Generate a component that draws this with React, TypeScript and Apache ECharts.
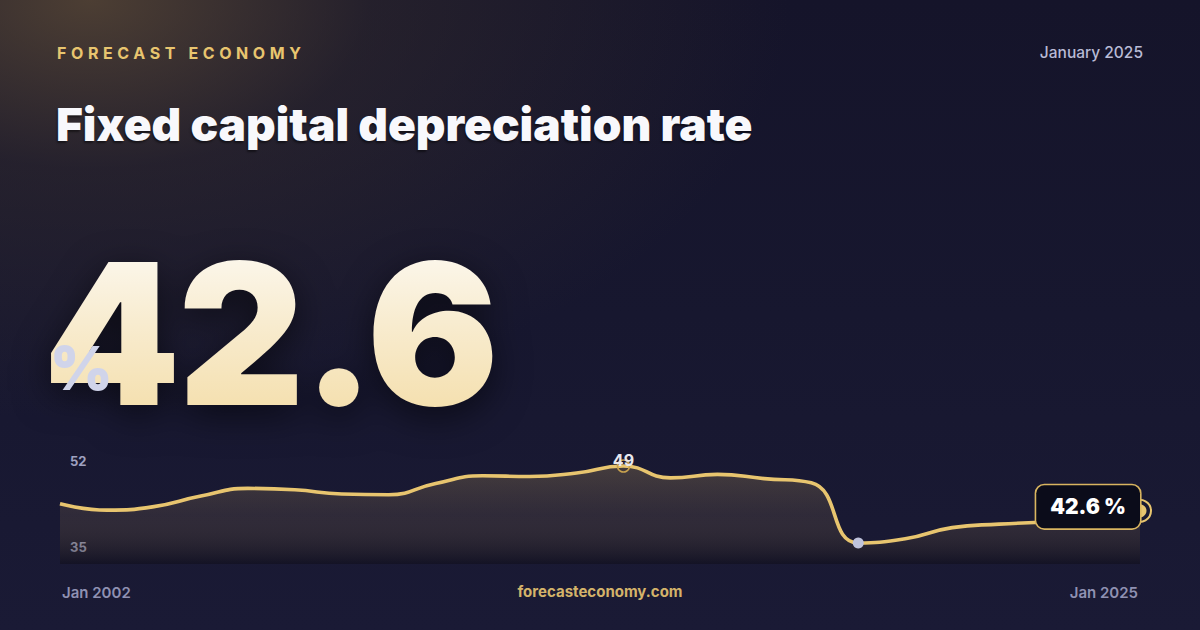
import React, { useEffect, useRef } from 'react';
import * as echarts from 'echarts';

const years = ['2002', '2003', '2004', '2005', '2006', '2007', '2008', '2009', '2010', '2011', '2012', '2013', '2014', '2015', '2016', '2017', '2018', '2019', '2020', '2021', '2022', '2023', '2024', '2025'];
const values = [43.6, 42.7, 43.2, 44.7, 45.8, 45.6, 45.0, 44.9, 46.5, 47.6, 47.5, 48.0, 49.0, 47.3, 47.8, 47.2, 46.6, 38.0, 38.6, 40.2, 40.7, 41.0, 41.5, 42.6];
const yTicks = [35, 52];
const headline = '42.6';
const unit = '%';
const brand = 'FORECAST ECONOMY';
const dateLabel = 'January 2025';
const title = 'Fixed capital depreciation rate';
const site = 'forecasteconomy.com';

const FONT = 'Inter, "Noto Sans", sans-serif';

export default function App() {
  const ref = useRef<HTMLDivElement>(null);

  useEffect(() => {
    document.body.style.margin = '0';
    const chart = echarts.init(ref.current!, null, { renderer: 'svg' });
    const last = values.length - 1;
    chart.setOption({
      animation: false,
      grid: { left: 60, right: 60, top: 445, bottom: 66 },
      xAxis: {
        type: 'category',
        data: years,
        boundaryGap: false,
        axisLine: { show: false },
        axisTick: { show: false },
        splitLine: { show: false },
        axisLabel: {
          interval: (i: number) => i === 0 || i === last,
          formatter: (v: string) => `Jan ${v}`,
          color: '#8f91b2',
          fontSize: 15,
          fontWeight: 600,
          fontFamily: FONT,
          margin: 21,
          padding: [0, 2, 0, 2],
          alignMinLabel: 'left',
          alignMaxLabel: 'right',
        },
      },
      yAxis: {
        type: 'value',
        min: yTicks[0],
        max: yTicks[1],
        splitLine: { show: false },
        axisLine: { show: false },
        axisTick: { show: false },
        axisLabel: {
          inside: true,
          margin: 10,
          formatter: (v: number) =>
            v === yTicks[1] ? `{hi|${v}}` : v === yTicks[0] ? `{lo|${v}}` : '',
          rich: {
            hi: { padding: [32, 0, 0, 0], fontSize: 13, fontWeight: 700, color: '#9fa1c0', fontFamily: FONT },
            lo: { padding: [0, 0, 34, 0], fontSize: 13, fontWeight: 700, color: '#9fa1c0', fontFamily: FONT },
          },
        },
      },
      series: [
        {
          type: 'line',
          data: values,
          smooth: 0.5,
          symbol: 'none',
          lineStyle: { color: '#e8c56f', width: 3.6 },
          areaStyle: {
            origin: 'start',
            color: new echarts.graphic.LinearGradient(0, 0, 0, 1, [
              { offset: 0, color: 'rgba(220,182,100,0.33)' },
              { offset: 0.5, color: 'rgba(170,138,88,0.22)' },
              { offset: 1, color: 'rgba(10,8,14,0.55)' },
            ]),
          },
          markPoint: {
            data: [
              {
                type: 'max',
                symbol: 'circle',
                symbolSize: 1,
                itemStyle: { color: 'rgba(0,0,0,0)' },
                label: {
                  show: true,
                  formatter: (p: any) => String(p.value),
                  position: 'inside',
                  offset: [0, -6],
                  color: '#e8e8ee',
                  fontSize: 16,
                  fontWeight: 700,
                  fontFamily: FONT,
                },
              },
              {
                type: 'max',
                symbol: 'circle',
                symbolSize: 12,
                itemStyle: { color: 'rgba(0,0,0,0)', borderColor: '#c9a24f', borderWidth: 1.6 },
                label: { show: false },
              },
              {
                type: 'min',
                symbol: 'circle',
                symbolSize: 11,
                itemStyle: { color: '#bfc3dc', borderWidth: 0 },
                label: { show: false },
              },
              {
                coord: [years[last], values[last]],
                value: values[last],
                symbol: 'circle',
                symbolSize: 1,
                itemStyle: { color: 'rgba(0,0,0,0)' },
                label: {
                  show: true,
                  formatter: (p: any) => `${p.value} ${unit}`,
                  position: 'inside',
                  align: 'right',
                  verticalAlign: 'middle',
                  offset: [0, -4],
                  color: '#ffffff',
                  fontSize: 21,
                  fontWeight: 900,
                  fontFamily: FONT,
                  backgroundColor: '#0b0c1a',
                  borderColor: '#d9b560',
                  borderWidth: 1.6,
                  borderRadius: 8,
                  padding: [11, 14, 11, 14],
                },
              },
              {
                coord: [years[last], values[last]],
                symbol: 'circle',
                symbolSize: 22,
                itemStyle: { color: 'rgba(0,0,0,0)', borderColor: '#e8c56f', borderWidth: 2 },
                label: { show: false },
              },
              {
                coord: [years[last], values[last]],
                symbol: 'circle',
                symbolSize: 13,
                itemStyle: { color: '#e8c56f', borderWidth: 0 },
                label: { show: false },
              },
            ],
          },
        },
      ],
    });
    return () => chart.dispose();
  }, []);

  return (
    <div
      style={{
        position: 'fixed',
        left: 0,
        top: 0,
        width: 1200,
        height: 630,
        overflow: 'hidden',
        fontFamily: FONT,
        background:
          'radial-gradient(ellipse 700px 420px at 90px 0px, rgba(92,74,54,0.78) 0%, rgba(60,50,46,0.4) 40%, rgba(0,0,0,0) 100%), linear-gradient(180deg, #15142a 0%, #17172f 50%, #1a1a35 100%)',
      }}
    >
      <div ref={ref} style={{ position: 'absolute', left: 0, top: 0, width: 1200, height: 630 }} />
      <div
        style={{
          position: 'absolute', left: 57, top: 45, fontSize: 16, lineHeight: '16px', fontWeight: 700,
          letterSpacing: '4.6px', color: '#e8c56f', whiteSpace: 'nowrap',
        }}
      >
        {brand}
      </div>
      <div
        style={{
          position: 'absolute', right: 57, top: 45, fontSize: 15.5, lineHeight: '15px', fontWeight: 500,
          color: '#b9bbd6', whiteSpace: 'nowrap',
        }}
      >
        {dateLabel}
      </div>
      <div
        style={{
          position: 'absolute', left: 56, top: 101, fontSize: 46, lineHeight: '46px', fontWeight: 900,
          color: '#f8f8fc', whiteSpace: 'nowrap', letterSpacing: '0px',
          textShadow: '-1px 2px 2px rgba(0,0,0,0.45)',
        }}
      >
        {title}
      </div>
      <div
        style={{
          position: 'absolute', left: 43, top: 236, fontSize: 196, lineHeight: '196px', fontWeight: 900,
          whiteSpace: 'nowrap', letterSpacing: '-2.5px',
          filter: 'drop-shadow(0px 10px 18px rgba(0,0,0,0.55))',
        }}
      >
        <span
          style={{
            background: 'linear-gradient(180deg, #fefdfb 0%, #f8ecd0 45%, #f3da9f 100%)',
            WebkitBackgroundClip: 'text',
            backgroundClip: 'text',
            color: 'transparent',
          }}
        >
          {headline}
        </span>
      </div>
      <div
        style={{
          position: 'absolute', left: 50, top: 338, fontSize: 60, lineHeight: '60px', fontWeight: 900,
          color: '#d0d4ea', whiteSpace: 'nowrap',
        }}
      >
        {unit}
      </div>
      <div
        style={{
          position: 'absolute', left: 0, width: 1200, textAlign: 'center', top: 584, fontSize: 15,
          lineHeight: '15px', fontWeight: 700, color: '#d4b36a', whiteSpace: 'nowrap',
        }}
      >
        {site}
      </div>
    </div>
  );
}
